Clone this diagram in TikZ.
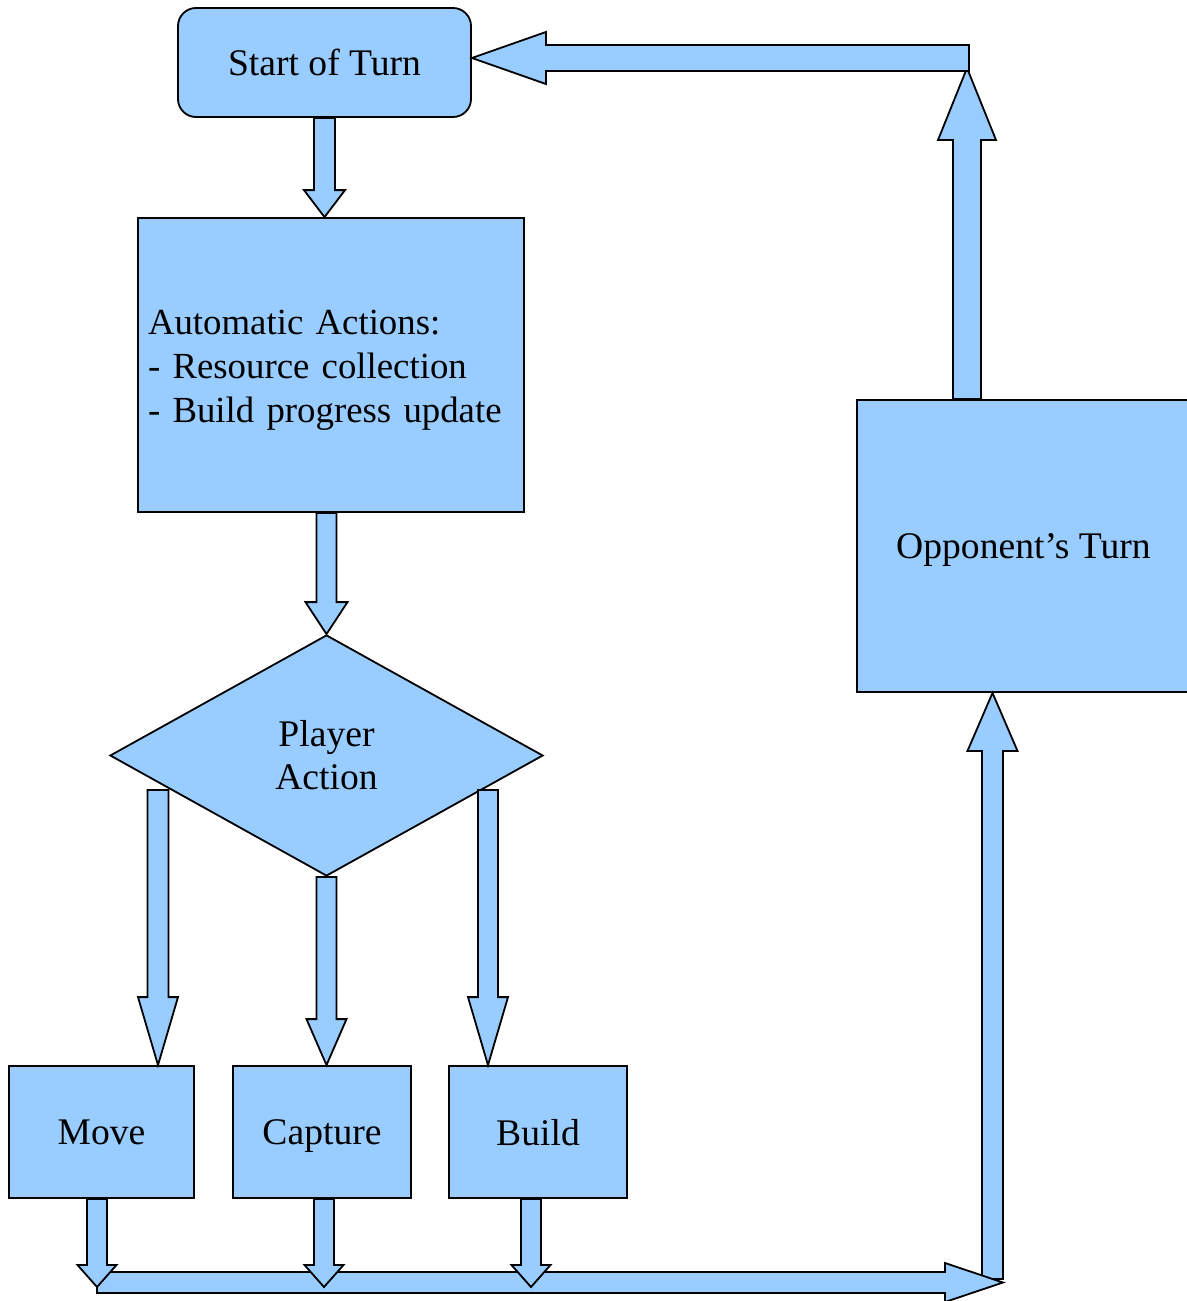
\documentclass[tikz,border=0pt]{standalone}
\usepackage{fontspec}
\setmainfont{Liberation Serif}
\usetikzlibrary{shapes.geometric,calc}
\definecolor{boxblue}{HTML}{99CCFF}
\tikzset{
  box/.style={draw=black, fill=boxblue, line width=0.9pt, font=\fontsize{18.8}{22}\selectfont, align=center, inner sep=0pt},
  onel/.style={text depth=0pt},
  barrow/.style={draw=black, fill=boxblue, line width=0.9pt, line join=miter}
}
% vertical block arrow: #1 start, #2 tip, #3 shaft half width, #4 head half width, #5 head length (px)
\newcommand\varrow[5]{\draw[barrow] let \p1=(#1), \p2=(#2), \p3=($(#2)!{#5*0.5pt}!(#1)$) in
  (\x1-#3*0.5pt,\y1) -- (\x1+#3*0.5pt,\y1) -- (\x1+#3*0.5pt,\y3) -- (\x1+#4*0.5pt,\y3) -- (\x1,\y2)
  -- (\x1-#4*0.5pt,\y3) -- (\x1-#3*0.5pt,\y3) -- cycle;}
% horizontal block arrow
\newcommand\harrow[5]{\draw[barrow] let \p1=(#1), \p2=(#2), \p3=($(#2)!{#5*0.5pt}!(#1)$) in
  (\x1,\y1-#3*0.5pt) -- (\x1,\y1+#3*0.5pt) -- (\x3,\y1+#3*0.5pt) -- (\x3,\y1+#4*0.5pt) -- (\x2,\y1)
  -- (\x3,\y1-#4*0.5pt) -- (\x3,\y1-#3*0.5pt) -- cycle;}
\begin{document}
\begin{tikzpicture}[x=0.5pt, y=-0.5pt]
\clip (0,0) rectangle (1187,1301);
\fill[white] (0,0) rectangle (1187,1301);

\node[box, onel, rounded corners=9pt, minimum width=146.5pt, minimum height=54.5pt] (start) at (324.5,62.5) {Start of Turn};
\node[box, minimum width=193pt, minimum height=147pt, text width=183pt, align=left, inner xsep=5pt,
  font=\fontsize{18.4}{22}\selectfont, text depth=42.5pt] (auto) at (331,365)
  {Automatic Actions:\\- Resource collection\\- Build progress update};
\node[box, diamond, minimum width=216.5pt, minimum height=120.5pt, font=\fontsize{18.8}{21.5}\selectfont] (dec) at (326.5,755.5) {Player\\Action};
\node[box, onel, minimum width=92.5pt, minimum height=66pt] (move) at (101.5,1132) {Move};
\node[box, onel, minimum width=89pt, minimum height=66pt] (capture) at (322,1132) {Capture};
\node[box, onel, minimum width=89pt, minimum height=66pt] (build) at (538,1132) {Build};
\node[box, onel, minimum width=166.5pt, minimum height=146pt] (opp) at (1023.5,546) {Opponent’s Turn};

% main flow
\varrow{start.south}{start.south |- auto.north}{10.5}{20.5}{27}
\varrow{dec.north |- auto.south}{dec.north}{10}{21}{32}
\coordinate (bl) at (158,790);
\coordinate (br) at (488,790);
\varrow{bl}{bl |- move.north}{10.5}{20}{68}
\varrow{dec.south}{dec.south |- capture.north}{10}{20}{46}
\varrow{br}{br |- build.north}{10}{20}{68}

% collector bus
\coordinate (busL) at (97,1282.5);
\coordinate (busR) at (1003,1281);
\coordinate (rv) at (992.5,1279);
\varrow{rv}{rv |- opp.south}{10.5}{25}{58}
\harrow{busL}{busR}{10.5}{19.5}{58}
\coordinate (bus) at (0,1287);
\coordinate (mvs) at ([xshift=-2.25pt]move.south);
\coordinate (cps) at ([xshift=1pt]capture.south);
\coordinate (bds) at ([xshift=-3.5pt]build.south);
\varrow{mvs}{mvs |- bus}{10}{19.5}{22}
\varrow{cps}{cps |- bus}{10}{19.5}{22}
\varrow{bds}{bds |- bus}{10}{19.5}{22}

% return path
\coordinate (uv) at (967,68);
\coordinate (tr) at (969,58);
\varrow{uv |- opp.north}{uv}{14}{29}{72}
\harrow{tr}{tr -| start.east}{13}{26}{74}
\end{tikzpicture}
\end{document}
